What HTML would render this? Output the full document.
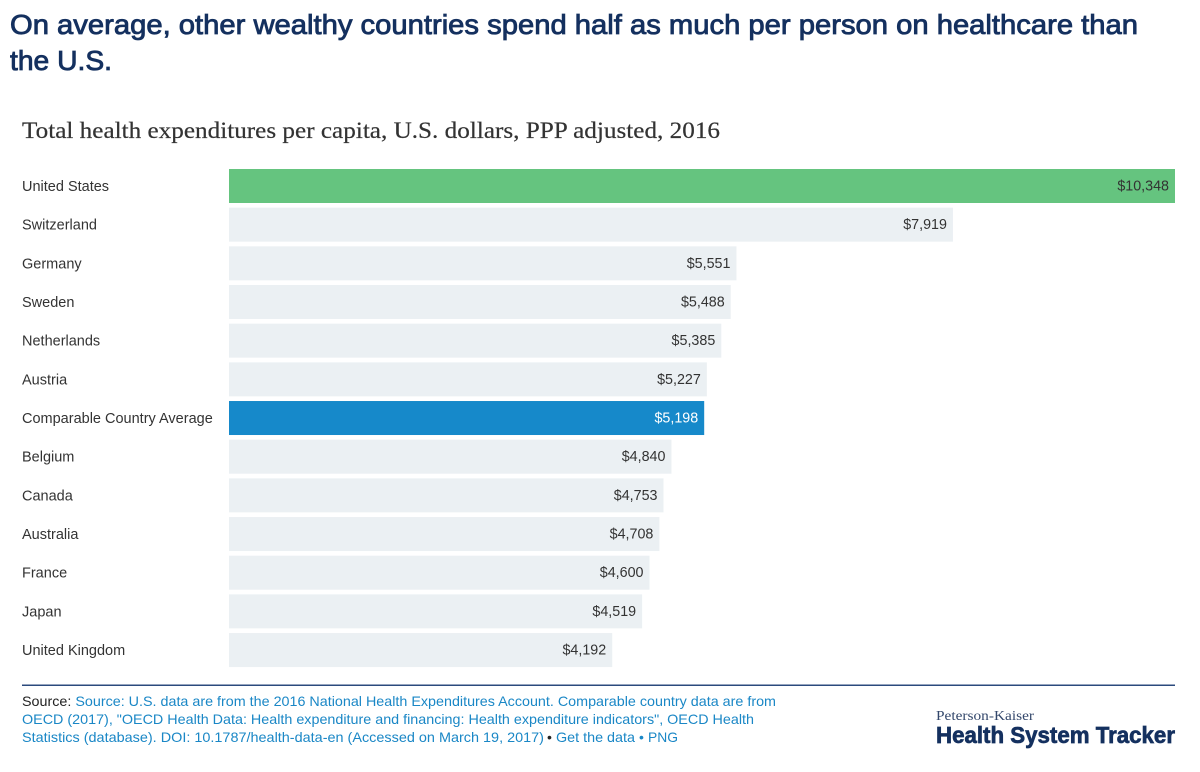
<!DOCTYPE html>
<html lang="en">
<head>
<meta charset="utf-8">
<title>Health expenditures per capita</title>
<style>
html,body{margin:0;padding:0;background:#fff;width:1200px;height:772px;overflow:hidden}
svg{display:block}
text{font-family:"Liberation Sans",sans-serif}
.title{font-size:28px;font-weight:400;fill:#14305f;stroke:#14305f;stroke-width:.85px}
.sub{font-family:"Liberation Serif",serif;font-size:23px;fill:#333;stroke:#333;stroke-width:.2px}
.cat{font-size:14.5px;fill:#333}
.val{font-size:14.3px;fill:#333;text-anchor:end}
.src{font-size:14px;fill:#1a87c6}
</style>
</head>
<body>
<svg id="chart" width="1200" height="772" viewBox="0 0 1200 772" xmlns="http://www.w3.org/2000/svg">
  <text class="title" x="10" y="34" textLength="1128" lengthAdjust="spacingAndGlyphs">On average, other wealthy countries spend half as much per person on healthcare than</text>
  <text class="title" x="10" y="70" textLength="102" lengthAdjust="spacingAndGlyphs">the U.S.</text>
  <text class="sub" x="22" y="138" textLength="698" lengthAdjust="spacingAndGlyphs">Total health expenditures per capita, U.S. dollars, PPP adjusted, 2016</text>
  <g id="bars"></g>
  <rect x="22" y="684.5" width="1153" height="1.5" fill="#2b4a7d"/>
  <text class="src" x="22" y="706" textLength="754" lengthAdjust="spacingAndGlyphs"><tspan fill="#222">Source:</tspan> Source: U.S. data are from the 2016 National Health Expenditures Account. Comparable country data are from</text>
  <text class="src" x="22" y="724" textLength="732" lengthAdjust="spacingAndGlyphs">OECD (2017), "OECD Health Data: Health expenditure and financing: Health expenditure indicators", OECD Health</text>
  <text class="src" x="22" y="742" textLength="522" lengthAdjust="spacingAndGlyphs">Statistics (database). DOI: 10.1787/health-data-en (Accessed on March 19, 2017)</text>
  <text class="src" x="547" y="742"><tspan fill="#222">•</tspan></text>
  <text class="src" x="556" y="742" textLength="79" lengthAdjust="spacingAndGlyphs">Get the data</text>
  <text class="src" x="639" y="742">•</text>
  <text class="src" x="648" y="742" textLength="30" lengthAdjust="spacingAndGlyphs">PNG</text>
  <text x="936" y="720" style="font-family:'Liberation Serif',serif;font-size:13.5px;fill:#33476b" textLength="98" lengthAdjust="spacingAndGlyphs">Peterson-Kaiser</text>
  <text x="936" y="743" style="font-size:23px;font-weight:700;fill:#14305f;stroke:#14305f;stroke-width:.7px" textLength="239" lengthAdjust="spacingAndGlyphs">Health System Tracker</text>
</svg>
<script>
const categories = ["United States","Switzerland","Germany","Sweden","Netherlands","Austria","Comparable Country Average","Belgium","Canada","Australia","France","Japan","United Kingdom"];
const values = [10348,7919,5551,5488,5385,5227,5198,4840,4753,4708,4600,4519,4192];
const highlights = {"United States":"#65c47f","Comparable Country Average":"#1689ca"};

const SVG_NS = "http://www.w3.org/2000/svg";
const plotLeft = 229, plotRight = 1175, plotTop = 169, bandStep = 38.67, barHeight = 34;
const domainMax = 10348;
function xScale(v){ return (plotRight - plotLeft) * v / domainMax; }
function yScale(i){ return plotTop + i * bandStep; }

const group = document.getElementById("bars");
categories.forEach(function(name, i){
  const v = values[i];
  const y = yScale(i);
  const w = xScale(v);

  const label = document.createElementNS(SVG_NS, "text");
  label.setAttribute("class", "cat");
  label.setAttribute("x", 22);
  label.setAttribute("y", y + 22);
  
  
  label.textContent = name;
  group.appendChild(label);

  const bar = document.createElementNS(SVG_NS, "rect");
  bar.setAttribute("x", plotLeft);
  bar.setAttribute("y", y);
  bar.setAttribute("width", w);
  bar.setAttribute("height", barHeight);
  bar.setAttribute("fill", highlights[name] || "#ebf0f3");
  
  
  group.appendChild(bar);

  const val = document.createElementNS(SVG_NS, "text");
  val.setAttribute("class", "val");
  val.setAttribute("x", plotLeft + w - 6);
  val.setAttribute("y", y + 21.5);
  if (name === "Comparable Country Average") {
    val.setAttribute("style", "fill:#fff");
  }
  
  
  val.textContent = "$" + v.toLocaleString("en-US");
  group.appendChild(val);
});
</script>
</body>
</html>
